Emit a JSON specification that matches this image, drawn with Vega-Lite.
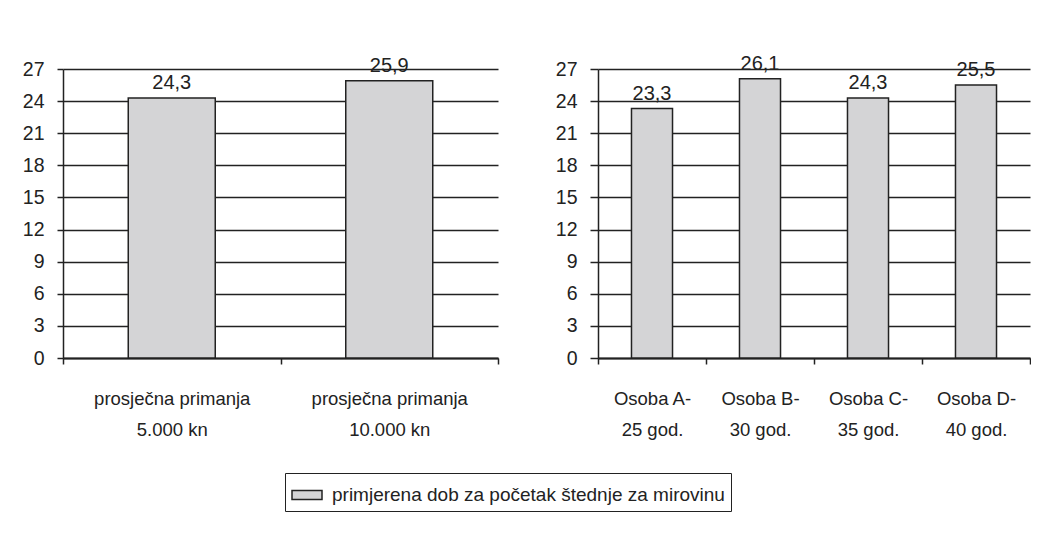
{
  "$schema": "https://vega.github.io/schema/vega-lite/v6.json",
  "padding": {"left": 22, "top": 53, "right": 0, "bottom": 0},
  "background": "white",
  "config": {
    "locale": {"number": {"decimal": ",", "thousands": ".", "grouping": [3], "currency": ["", " kn"]}},
    "font": "Liberation Sans",
    "view": {"stroke": null},
    "axis": {"labelColor": "#222", "domainColor": "#222", "tickColor": "#222", "gridColor": "#222", "labelFont": "Liberation Sans"},
    "text": {"font": "Liberation Sans"}
  },
  "data": {"values": [
    {"panel": "L", "cat": "prosječna primanja\n5.000 kn", "value": 24.3, "series": "primjerena dob za početak štednje za mirovinu"},
    {"panel": "L", "cat": "prosječna primanja\n10.000 kn", "value": 25.9, "series": "primjerena dob za početak štednje za mirovinu"},
    {"panel": "R", "cat": "Osoba A-\n25 god.", "value": 23.3, "series": "primjerena dob za početak štednje za mirovinu"},
    {"panel": "R", "cat": "Osoba B-\n30 god.", "value": 26.1, "series": "primjerena dob za početak štednje za mirovinu"},
    {"panel": "R", "cat": "Osoba C-\n35 god.", "value": 24.3, "series": "primjerena dob za početak štednje za mirovinu"},
    {"panel": "R", "cat": "Osoba D-\n40 god.", "value": 25.5, "series": "primjerena dob za početak štednje za mirovinu"}
  ]},
  "resolve": {"scale": {"x": "independent", "y": "independent", "color": "shared"}},
  "spacing": 56,
  "hconcat": [
    {
      "width": 435, "height": 289,
      "transform": [{"filter": "datum.panel == 'L'"}],
      "encoding": {
        "x": {"field": "cat", "type": "nominal", "sort": null, "scale": {"paddingInner": 0, "paddingOuter": 0},
          "axis": {"title": null, "labelAngle": 0, "tickBand": "extent", "labelExpr": "datum.value ? split(datum.value, '\\n') : ''", "labelPadding": 25, "labelLineHeight": 31, "labelBaseline": "top", "labelFontSize": 18.5, "domainWidth": 2, "tickWidth": 1.5, "tickSize": 6, "grid": false}},
        "y": {"field": "value", "type": "quantitative", "scale": {"domain": [0, 27], "nice": false},
          "axis": {"title": null, "values": [0, 3, 6, 9, 12, 15, 18, 21, 24, 27], "grid": true, "gridWidth": 1.5, "domainWidth": 1.5, "tickWidth": 1.5, "tickSize": 6, "labelPadding": 13, "labelFontSize": 19.5}}
      },
      "layer": [
        {"mark": {"type": "bar", "width": {"band": 0.4}, "stroke": "#222", "strokeWidth": 1.5, "opacity": 1},
          "encoding": {"color": {"field": "series", "type": "nominal", "scale": {"range": ["#d4d4d6"]},
            "legend": {"orient": "none", "legendX": 222, "legendY": 404, "title": null, "strokeColor": "#222", "padding": 6, "labelFontSize": 19, "labelLimit": 0, "labelColor": "#222", "symbolType": "M-1,-0.3L1,-0.3L1,0.3L-1,0.3Z", "symbolSize": 900, "symbolStrokeColor": "#222", "symbolStrokeWidth": 1.5, "labelOffset": 9, "symbolOpacity": 1}}}},
        {"mark": {"type": "text", "dy": -5, "baseline": "bottom", "fontSize": 20, "color": "#222"},
          "encoding": {"text": {"field": "value", "type": "quantitative", "format": ".1f"}}}
      ]
    },
    {
      "width": 432, "height": 289,
      "transform": [{"filter": "datum.panel == 'R'"}],
      "encoding": {
        "x": {"field": "cat", "type": "nominal", "sort": null, "scale": {"paddingInner": 0, "paddingOuter": 0},
          "axis": {"title": null, "labelAngle": 0, "tickBand": "extent", "labelExpr": "datum.value ? split(datum.value, '\\n') : ''", "labelPadding": 25, "labelLineHeight": 31, "labelBaseline": "top", "labelFontSize": 18.5, "domainWidth": 2, "tickWidth": 1.5, "tickSize": 6, "grid": false}},
        "y": {"field": "value", "type": "quantitative", "scale": {"domain": [0, 27], "nice": false},
          "axis": {"title": null, "values": [0, 3, 6, 9, 12, 15, 18, 21, 24, 27], "grid": true, "gridWidth": 1.5, "domainWidth": 1.5, "tickWidth": 1.5, "tickSize": 8, "labelPadding": 13, "labelFontSize": 19.5}}
      },
      "layer": [
        {"mark": {"type": "bar", "width": {"band": 0.38}, "stroke": "#222", "strokeWidth": 1.5, "opacity": 1},
          "encoding": {"color": {"field": "series", "type": "nominal", "scale": {"range": ["#d4d4d6"]},
            "legend": {"orient": "none", "legendX": 222, "legendY": 404, "title": null, "strokeColor": "#222", "padding": 6, "labelFontSize": 19, "labelLimit": 0, "labelColor": "#222", "symbolType": "M-1,-0.3L1,-0.3L1,0.3L-1,0.3Z", "symbolSize": 900, "symbolStrokeColor": "#222", "symbolStrokeWidth": 1.5, "labelOffset": 9, "symbolOpacity": 1}}}},
        {"mark": {"type": "text", "dy": -5, "baseline": "bottom", "fontSize": 20, "color": "#222"},
          "encoding": {"text": {"field": "value", "type": "quantitative", "format": ".1f"}}}
      ]
    }
  ]
}
